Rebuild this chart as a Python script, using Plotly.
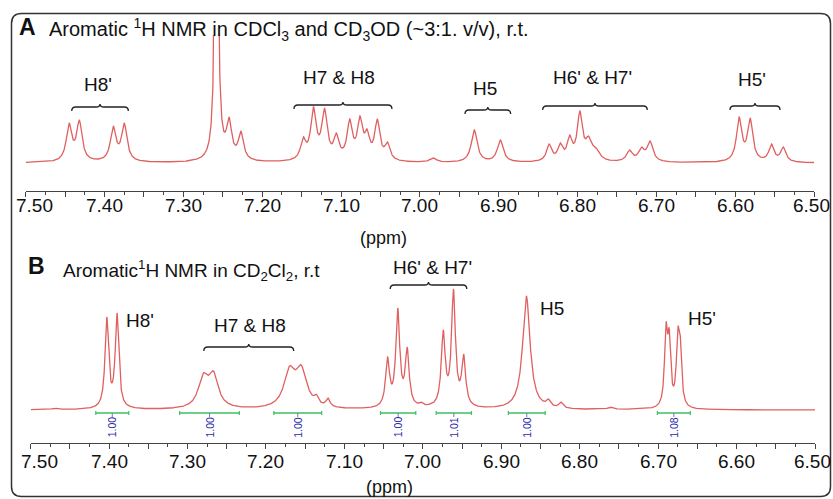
import numpy as np
import plotly.graph_objects as go

W, H = 833, 499

# ---------------- Panel A data: peaks (ppm, apparent top height, half-width ppm)
a_ppm = [7.445, 7.432, 7.389, 7.375, 7.258, 7.242, 7.227,
         7.148, 7.135, 7.121, 7.106, 7.089, 7.076, 7.067, 7.054, 7.041,
         6.983, 6.931, 6.898,
         6.836, 6.822, 6.810, 6.797, 6.786, 6.777, 6.734, 6.719, 6.708,
         6.595, 6.581, 6.554, 6.539]
a_top = [40, 43, 37, 40, 400, 46, 32,
         26, 56, 55, 30, 44, 47, 34, 44, 21,
         5, 33, 23,
         19, 20, 28, 52, 27, 16, 13, 16, 22,
         46, 45, 19, 16]
a_hw = [0.0042, 0.0042, 0.0042, 0.0042, 0.0022, 0.0040, 0.0040,
        0.0040, 0.0042, 0.0042, 0.0040, 0.0040, 0.0040, 0.0038, 0.0040, 0.0040,
        0.0050, 0.0045, 0.0045,
        0.0040, 0.0038, 0.0038, 0.0040, 0.0045, 0.0060, 0.0045, 0.0045, 0.0045,
        0.0040, 0.0040, 0.0040, 0.0040]

a_labels = ["H8'", "H7 & H8", "H5", "H6' & H7'", "H5'"]
a_label_ppm = [7.408, 7.1026, 6.9174, 6.7816, 6.5786]
a_label_y = [78, 86, 74, 86, 84]
a_brace_start = [7.4416, 7.1597, 6.9427, 6.8442, 6.6066]
a_brace_end = [7.3698, 7.0354, 6.8848, 6.7115, 6.5431]
a_brace_y = [56, 58, 53, 57, 57]

# ---------------- Panel B data
b_ppm = [7.469, 7.403, 7.390, 7.280, 7.267, 7.170, 7.155, 7.136, 7.121,
         7.045, 7.032, 7.020, 7.002, 6.991, 6.974, 6.961, 6.948,
         6.868, 6.840, 6.824, 6.761,
         6.690, 6.686, 6.675, 6.672]
b_top = [2, 93, 97, 37, 39, 44, 45, 16, 12,
         53, 102, 63, 8, 6, 80, 121, 56,
         114, 11, 8, 3,
         88, 82, 83, 77]
b_hw = [0.004, 0.0027, 0.0027, 0.0075, 0.0075, 0.0085, 0.0085, 0.003, 0.003,
        0.003, 0.003, 0.003, 0.003, 0.003, 0.003, 0.003, 0.003,
        0.0057, 0.003, 0.003, 0.004,
        0.0022, 0.0022, 0.0022, 0.0022]

b_labels = ["H8'", "H7 & H8", "H6' & H7'", "H5", "H5'"]
b_label_ppm = [7.3608, 7.2207, 6.9877, 6.8348, 6.6438]
b_label_y = [90, 85, 143, 102, 92]
b_brace_start = [7.2793, 7.0416]
b_brace_end = [7.1647, 6.9440]
b_brace_y = [63, 125]

int_start = [7.417, 7.310, 7.190, 7.054, 6.983, 6.891, 6.701]
int_end = [7.375, 7.234, 7.129, 7.009, 6.938, 6.844, 6.659]
int_val = ["1.00", "1.00", "1.00", "1.00", "1.01", "1.00", "1.08"]

tick_vals = [6.50, 6.55, 6.60, 6.65, 6.70, 6.75, 6.80, 6.85, 6.90, 6.95,
             7.00, 7.05, 7.10, 7.15, 7.20, 7.25, 7.30, 7.35, 7.40, 7.45, 7.50]
tick_text = ["6.50", "", "6.60", "", "6.70", "", "6.80", "", "6.90", "",
             "7.00", "", "7.10", "", "7.20", "", "7.30", "", "7.40", "", "7.50"]

title_a = "Aromatic <sup>1</sup>H NMR in CDCl<sub>3</sub> and CD<sub>3</sub>OD (~3:1. v/v), r.t."
title_b = "Aromatic<sup>1</sup>H NMR in CD<sub>2</sub>Cl<sub>2</sub>, r.t"

# ---------------- build spectra from peak lists
grid = np.linspace(7.50, 6.50, 4001)


def spectrum(pos, top, hw):
    pos = np.array(pos); top = np.array(top, float); hw = np.array(hw)
    M = 1.0 / (1.0 + ((pos[:, None] - pos[None, :]) / hw[None, :]) ** 2)
    amp = np.clip(np.linalg.solve(M, top), 0, None)
    return (amp[None, :] / (1.0 + ((grid[:, None] - pos[None, :]) / hw[None, :]) ** 2)).sum(axis=1)


spec_a = spectrum(a_ppm, a_top, a_hw)
spec_b = spectrum(b_ppm, b_top, b_hw)


def px_x(p):
    return p / W


def px_y(p):
    return 1 - p / H


FONT = "Arial, Liberation Sans, sans-serif"
RED = "#e05f5f"

# pixel layout of the two panels
A_DOM = (191, 35)     # bottom, top (px)
A_RANGE = (-28, 128)
B_DOM = (443, 270)
B_RANGE = (-33, 140)
A_TICKLABEL_PX = 206
B_TICKLABEL_PX = 461


def to_paper(v, dom, rng):
    frac = (v - rng[0]) / (rng[1] - rng[0])
    return px_y(dom[0]) + frac * (px_y(dom[1]) - px_y(dom[0]))


fig = go.Figure()
fig.add_trace(go.Scatter(x=grid, y=spec_a, mode="lines", line=dict(color=RED, width=1.3),
                         xaxis="x", yaxis="y", hoverinfo="skip"))
fig.add_trace(go.Scatter(x=grid, y=spec_b, mode="lines", line=dict(color=RED, width=1.3),
                         xaxis="x2", yaxis="y2", hoverinfo="skip"))

xcommon = dict(range=[7.50, 6.50], showgrid=False, zeroline=False, showline=True,
               automargin=False,
               linecolor="#444", linewidth=1, ticks="outside", ticklen=5, tickwidth=1,
               tickcolor="#444", tickmode="array", tickvals=tick_vals,
               showticklabels=False,
               minor=dict(tickmode="linear", tick0=6.5, dtick=0.025, ticklen=3,
                          tickcolor="#444", ticks="outside", showgrid=False))

fig.update_layout(
    width=W, height=H, margin=dict(l=0, r=0, t=0, b=0, pad=0, autoexpand=False),
    paper_bgcolor="white", plot_bgcolor="white", showlegend=False,
    xaxis=dict(domain=[px_x(25.7), px_x(814)], anchor="y", **xcommon),
    yaxis=dict(domain=[px_y(A_DOM[0]), px_y(A_DOM[1])], range=list(A_RANGE),
               visible=False, automargin=False),
    xaxis2=dict(domain=[px_x(30.7), px_x(815)], anchor="y2", **xcommon),
    yaxis2=dict(domain=[px_y(B_DOM[0]), px_y(B_DOM[1])], range=list(B_RANGE),
                visible=False, automargin=False),
)

shapes = []
ann = []


def brace(xs, xe, y, xref, yref, dx=0.005, down=4, up=3):
    xc = (xs + xe) / 2
    path = (f"M {xs},{y - down} Q {xs},{y} {xs - dx},{y} L {xc + dx},{y} "
            f"Q {xc},{y} {xc},{y + up} Q {xc},{y} {xc - dx},{y} L {xe + dx},{y} "
            f"Q {xe},{y} {xe},{y - down}")
    return dict(type="path", path=path, xref=xref, yref=yref,
                line=dict(color="#222", width=1.3))


def text(t, x, y, xref="paper", size=19, **kw):
    d = dict(text=t, x=x, y=y, xref=xref, yref="paper", showarrow=False,
             xanchor="center", yanchor="middle",
             font=dict(family=FONT, size=size, color="#111"))
    d.update(kw)
    return d


for s, e, y in zip(a_brace_start, a_brace_end, a_brace_y):
    shapes.append(brace(s, e, y, "x", "y"))
for s, e, y in zip(b_brace_start, b_brace_end, b_brace_y):
    shapes.append(brace(s, e, y, "x2", "y2"))

for t, x, y in zip(a_labels, a_label_ppm, a_label_y):
    ann.append(text(t, x, to_paper(y, A_DOM, A_RANGE), xref="x"))
for t, x, y in zip(b_labels, b_label_ppm, b_label_y):
    ann.append(text(t, x, to_paper(y, B_DOM, B_RANGE), xref="x2"))

# tick labels (as text so their distance from the axis matches)
for xref, ypx in (("x", A_TICKLABEL_PX), ("x2", B_TICKLABEL_PX)):
    for v, t in zip(tick_vals, tick_text):
        if not t:
            continue
        shift = 9 if v == 7.50 else (-3 if v == 6.50 else 0)
        ann.append(text(t, v, px_y(ypx), xref=xref, xshift=shift))

GREEN = "#3cc060"
for s, e, v in zip(int_start, int_end, int_val):
    c = (s + e) / 2
    shapes.append(dict(type="line", x0=s, x1=e, y0=-3, y1=-3, xref="x2", yref="y2",
                       line=dict(color=GREEN, width=1.6)))
    for xe in (s, e):
        shapes.append(dict(type="line", x0=xe, x1=xe, y0=-5, y1=-1, xref="x2", yref="y2",
                           line=dict(color=GREEN, width=1.2)))
    shapes.append(dict(type="line", x0=c, x1=c, y0=-3, y1=-7, xref="x2", yref="y2",
                       line=dict(color="#7777bb", width=1)))
    ann.append(dict(text=v, x=c, y=-17, xref="x2", yref="y2", showarrow=False,
                    xanchor="center", yanchor="middle",
                    textangle=-90, font=dict(family=FONT, size=10.5, color="#2a2aaa")))

# outer rounded frame
x0, x1 = px_x(11.5), px_x(830.5)
y0, y1 = px_y(496.5), px_y(13.5)
rx, ry = 10 / W, 10 / H
frame = (f"M {x0 + rx},{y1} L {x1 - rx},{y1} Q {x1},{y1} {x1},{y1 - ry} "
         f"L {x1},{y0 + ry} Q {x1},{y0} {x1 - rx},{y0} L {x0 + rx},{y0} "
         f"Q {x0},{y0} {x0},{y0 + ry} L {x0},{y1 - ry} Q {x0},{y1} {x0 + rx},{y1} Z")
shapes.append(dict(type="path", path=frame, xref="paper", yref="paper",
                   line=dict(color="#333", width=1.5)))

# titles and axis names
ann += [
    text("<b>A</b>", px_x(17), px_y(27), size=23, xanchor="left"),
    text(title_a, px_x(47), px_y(30), size=20, xanchor="left"),
    text("<b>B</b>", px_x(26), px_y(266), size=23, xanchor="left"),
    text(title_b, px_x(61), px_y(270), size=19, xanchor="left"),
    text("(ppm)", px_x(383), px_y(238), size=18),
    text("(ppm)", px_x(389), px_y(487), size=18),
]

fig.update_layout(shapes=shapes, annotations=ann)
fig.write_html("out.html", config={"displayModeBar": False},
               post_script="document.body.style.margin='0';document.body.style.padding='0';")
